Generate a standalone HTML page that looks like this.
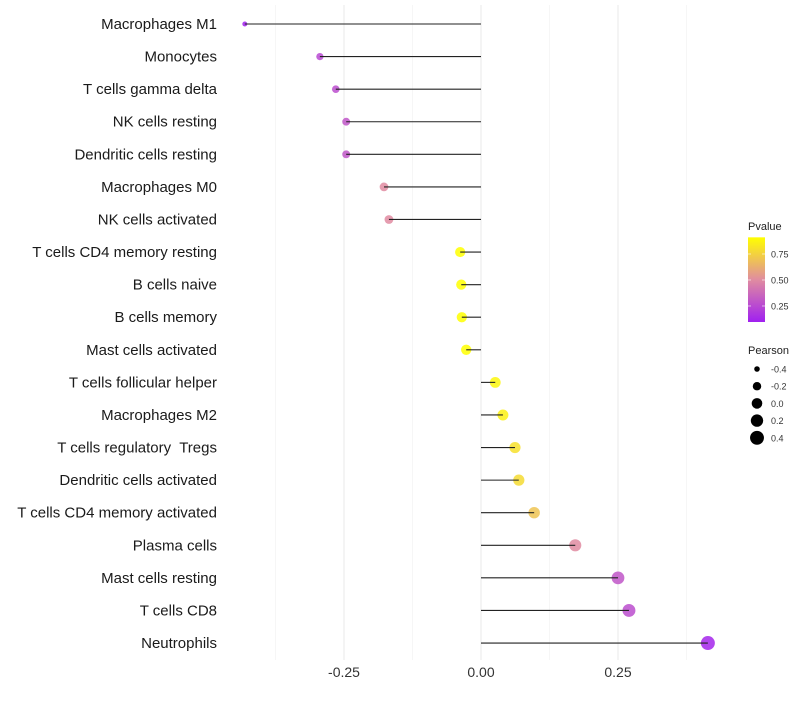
<!DOCTYPE html>
<html><head><meta charset="utf-8"><style>
body{margin:0;background:#fff;font-family:"Liberation Sans",sans-serif}
text{white-space:pre}
</style></head><body>
<svg id="c" width="800" height="700" xmlns="http://www.w3.org/2000/svg" font-family="Liberation Sans, sans-serif"></svg>
<script>
const categories=["Macrophages M1","Monocytes","T cells gamma delta","NK cells resting","Dendritic cells resting","Macrophages M0","NK cells activated","T cells CD4 memory resting","B cells naive","B cells memory","Mast cells activated","T cells follicular helper","Macrophages M2","T cells regulatory  Tregs","Dendritic cells activated","T cells CD4 memory activated","Plasma cells","Mast cells resting","T cells CD8","Neutrophils"];
const pearson=[-0.431,-0.294,-0.265,-0.246,-0.246,-0.177,-0.168,-0.038,-0.036,-0.035,-0.027,0.026,0.040,0.062,0.069,0.097,0.172,0.250,0.270,0.414];
const pvalue=[0.10,0.25,0.27,0.30,0.30,0.50,0.50,0.91,0.91,0.91,0.91,0.88,0.86,0.80,0.78,0.70,0.50,0.30,0.27,0.12];
const xTicks=[-0.25,0,0.25];
const xTickLabels=["-0.25","0.00","0.25"];
const xMinor=[-0.375,-0.125,0.125,0.375];
const pTicks=[0.25,0.5,0.75];
const pTickLabels=["0.25","0.50","0.75"];
const sizeLegend=[-0.4,-0.2,0,0.2,0.4];
const sizeLegendLabels=["-0.4","-0.2","0.0","0.2","0.4"];

const svg=document.getElementById('c');const NS="http://www.w3.org/2000/svg";
function mk(t,a,p){const e=document.createElementNS(NS,t);for(const k in a)e.setAttribute(k,a[k]);(p||svg).appendChild(e);return e;}
const x=v=>481+v*548;
const y=i=>24+i*32.58;
const r=v=>Math.sqrt(Math.max(1,28+v*50.6));
const pMin=0.096,pMax=0.91;
function col(p){let t=(p-pMin)/(pMax-pMin);t=Math.max(0,Math.min(1,t));
 const lo=[160,32,240],mid=[224,140,160],hi=[255,255,0];let a,b,s;
 if(t<0.5){a=lo;b=mid;s=t*2}else{a=mid;b=hi;s=(t-0.5)*2}
 return `rgb(${a.map((c,k)=>Math.round(c+(b[k]-c)*s)).join(',')})`;}
xMinor.forEach(v=>{const l=mk('line',{x1:x(v),x2:x(v),y1:5,y2:660,stroke:'#f0f0f0','stroke-width':0.6});

});
xTicks.forEach((v,i)=>{const l=mk('line',{x1:x(v),x2:x(v),y1:5,y2:660,stroke:'#ebebeb','stroke-width':1.1});


const t=mk('text',{x:x(v),y:677,'text-anchor':'middle','font-size':14,fill:'#333'});t.textContent=xTickLabels[i];

});
categories.forEach((c,i)=>{
 const t=mk('text',{x:217,y:y(i)+5,'text-anchor':'end','font-size':15,fill:'#1a1a1a'});t.textContent=c;
 
 
 const pt=mk('circle',{cx:x(pearson[i]),cy:y(i),r:r(pearson[i]),fill:col(pvalue[i]),'fill-opacity':0.85});
 
 
 const l=mk('line',{x1:x(0),x2:x(pearson[i]),y1:y(i),y2:y(i),stroke:'#222','stroke-width':1.1});
 
 
});
const lt=mk('text',{x:748,y:230,'font-size':11,fill:'#222'});lt.textContent='Pvalue';


const defs=mk('defs',{});const g=mk('linearGradient',{id:'gr',x1:0,y1:1,x2:0,y2:0},defs);
for(let k=0;k<=10;k++)mk('stop',{offset:k/10,'stop-color':col(pMin+(pMax-pMin)*k/10)},g);
const py=p=>322-(p-pMin)*104;
const bar=mk('rect',{x:748,y:py(pMax),width:17,height:(pMax-pMin)*104,fill:'url(#gr)'});


pTicks.forEach((p,i)=>{mk('line',{x1:748,x2:751,y1:py(p),y2:py(p),stroke:'#fff','stroke-opacity':0.6});mk('line',{x1:762,x2:765,y1:py(p),y2:py(p),stroke:'#fff','stroke-opacity':0.6});
 const t=mk('text',{x:771,y:py(p)+3.5,'font-size':9,fill:'#333'});t.textContent=pTickLabels[i];
 
 });
const st=mk('text',{x:748,y:354,'font-size':11,fill:'#222'});st.textContent='Pearson';


sizeLegend.forEach((v,i)=>{const cy=369+i*17.2;
 const c=mk('circle',{cx:757,cy:cy,r:r(v),fill:'#000'});
 
 
 const t=mk('text',{x:771,y:cy+3.5,'font-size':9,fill:'#333'});t.textContent=sizeLegendLabels[i];
 
 });
</script>
</body></html>
